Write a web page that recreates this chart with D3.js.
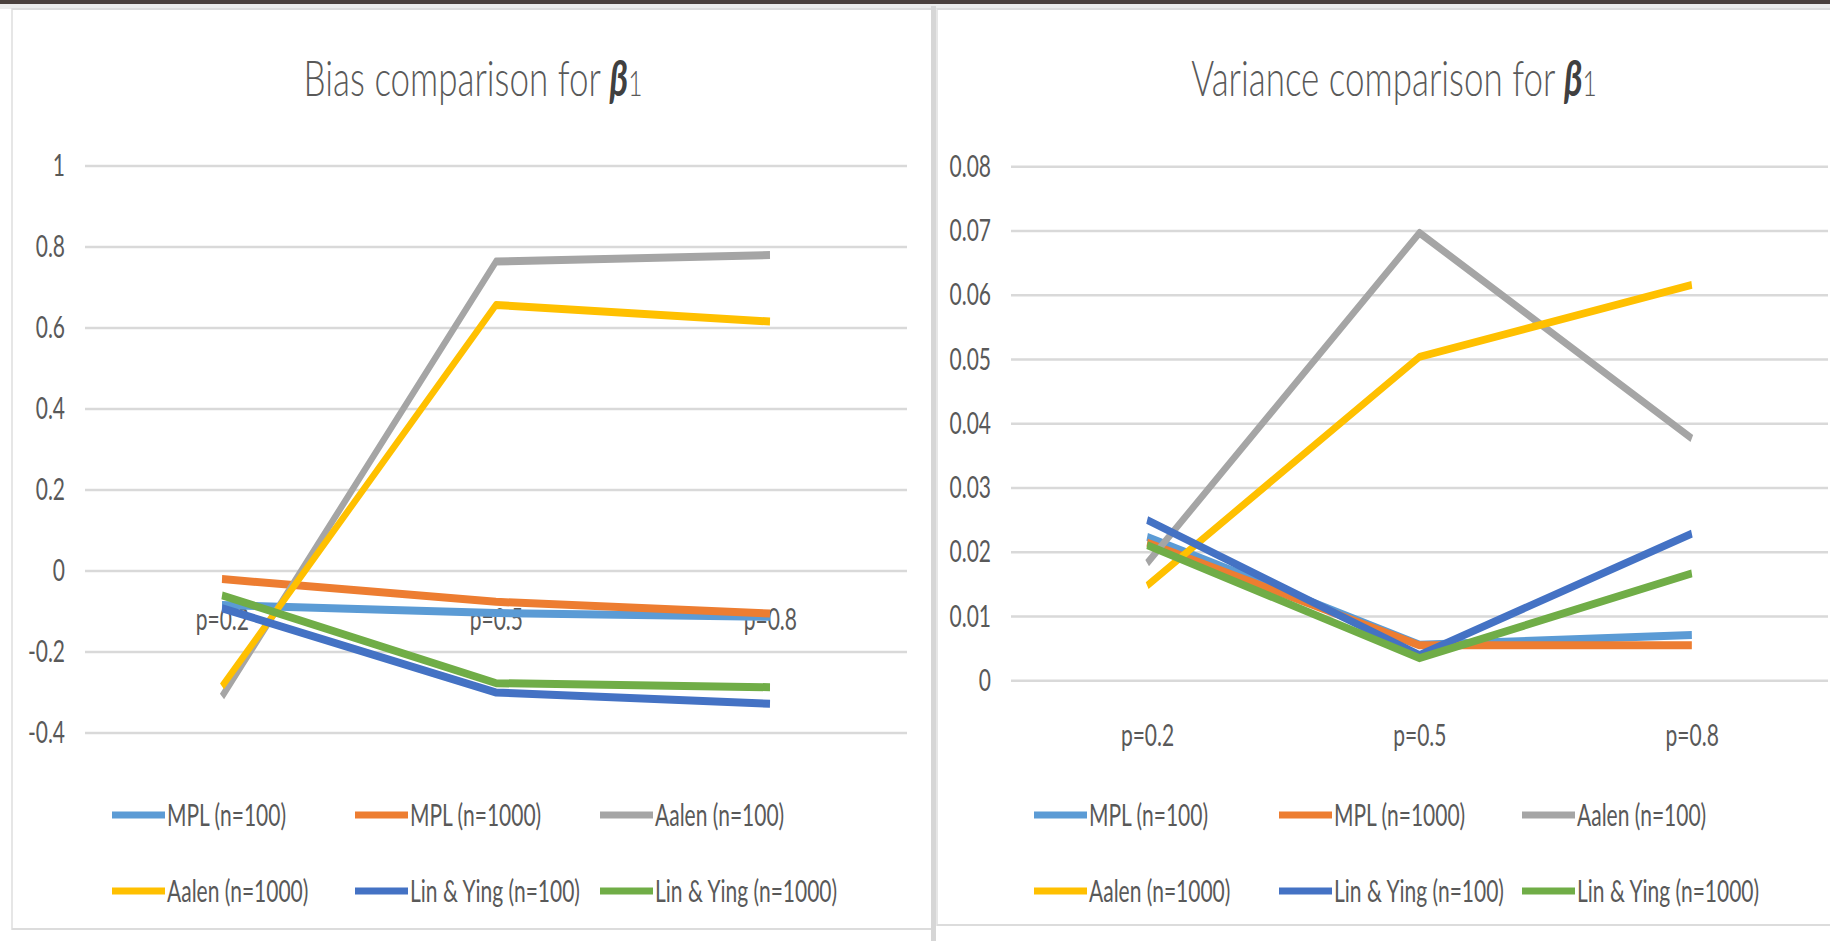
<!DOCTYPE html>
<html>
<head>
<meta charset="utf-8">
<script src="https://cdn.jsdelivr.net/npm/d3@7"></script>
<style>
  body { margin: 0; background: #fff; overflow: hidden; }
  svg { display: block; }
  text { font-family: Lato, "Open Sans", sans-serif; fill: #595959; }
</style>
</head>
<body>
<svg id="chart" width="1830" height="941"></svg>
<script>
// Categories and series
const categories = ["p=0.2", "p=0.5", "p=0.8"];
const seriesNames = ["MPL (n=100)", "MPL (n=1000)", "Aalen (n=100)",
                     "Aalen (n=1000)", "Lin & Ying (n=100)", "Lin & Ying (n=1000)"];
const seriesColors = ["#5b9bd5", "#ed7d31", "#a5a5a5", "#ffc000", "#4472c4", "#70ad47"];

// Bias of beta1 estimates
const biasMPL100    = [-0.084, -0.104, -0.113];
const biasMPL1000   = [-0.020, -0.076, -0.105];
const biasAalen100  = [-0.310,  0.764,  0.780];
const biasAalen1000 = [-0.285,  0.657,  0.616];
const biasLY100     = [-0.092, -0.300, -0.328];
const biasLY1000    = [-0.060, -0.277, -0.287];

// Variance of beta1 estimates
const varMPL100    = [0.0224, 0.0056, 0.0071];
const varMPL1000   = [0.0215, 0.0055, 0.0055];
const varAalen100  = [0.0183, 0.0697, 0.0377];
const varAalen1000 = [0.0148, 0.0504, 0.0616];
const varLY100     = [0.0250, 0.0040, 0.0229];
const varLY1000    = [0.0211, 0.0035, 0.0167];

// Axis ticks
const biasTicks = [1, 0.8, 0.6, 0.4, 0.2, 0, -0.2, -0.4];
const varTicks  = [0.08, 0.07, 0.06, 0.05, 0.04, 0.03, 0.02, 0.01, 0];

// The whole drawing is horizontally condensed
const SX = 0.7;
const V = x => x / SX;

const svg = d3.select("#chart");
const root = svg.append("g").attr("transform", `scale(${SX},1)`);

// Frame: dark top edge, panel borders and divider
root.append("rect").attr("x", 0).attr("y", 0).attr("width", V(1830)).attr("height", 4).attr("fill", "#4a403d");
root.append("rect").attr("x", 0).attr("y", 4).attr("width", V(1830)).attr("height", 5).attr("fill", "#ececec");
root.append("rect").attr("x", V(12)).attr("y", 9).attr("width", V(920)).attr("height", 920)
  .attr("fill", "none").attr("stroke", "#dcdcdc").attr("stroke-width", 2);
root.append("rect").attr("x", V(937)).attr("y", 9).attr("width", V(900)).attr("height", 916)
  .attr("fill", "none").attr("stroke", "#dcdcdc").attr("stroke-width", 2);
root.append("rect").attr("x", V(931)).attr("y", 6).attr("width", V(5)).attr("height", 935).attr("fill", "#d6d6d6");

const panels = [
  {
    title: "Bias comparison for ",
    ticks: biasTicks,
    domain: [-0.4, 1],
    values: [biasMPL100, biasMPL1000, biasAalen100, biasAalen1000, biasLY100, biasLY1000],
    xr: [85, 907], yr: [733, 166], catOffset: 38,
    titleX: 473, legendX: [112, 355, 600]
  },
  {
    title: "Variance comparison for ",
    ticks: varTicks,
    domain: [0, 0.08],
    values: [varMPL100, varMPL1000, varAalen100, varAalen1000, varLY100, varLY1000],
    xr: [1011, 1828], yr: [680.7, 166.7], catOffset: 44,
    titleX: 1394, legendX: [1034, 1279, 1522]
  }
];

panels.forEach(p => {
  const g = root.append("g");
  const x = d3.scalePoint().domain(categories).range([V(p.xr[0]), V(p.xr[1])]).padding(0.5);
  const y = d3.scaleLinear().domain(p.domain).range(p.yr);

  // Title
  const t = g.append("text").attr("x", V(p.titleX)).attr("y", 96)
    .attr("text-anchor", "middle").style("font-size", "50px").style("font-weight", 300);
  t.append("tspan").text(p.title);
  t.append("tspan").text("β").style("font-weight", 700).style("font-style", "italic").style("fill", "#404040");
  t.append("tspan").text("1").style("font-size", "35px");

  // Gridlines
  g.append("g").selectAll("line").data(p.ticks).join("line")
    .attr("x1", V(p.xr[0])).attr("x2", V(p.xr[1]))
    .attr("y1", d => y(d)).attr("y2", d => y(d))
    .attr("stroke", "#d9d9d9").attr("stroke-width", 2.4);

  // Value axis labels
  const yAxis = d3.axisLeft(y).tickValues(p.ticks).tickFormat(d => String(d)).tickSize(0).tickPadding(V(20));
  const ya = g.append("g").attr("transform", `translate(${V(p.xr[0])},0)`).call(yAxis);
  ya.select(".domain").remove();
  ya.selectAll("text").style("font-size", "30px").style("fill", "#595959").style("font-family", "Lato, sans-serif");

  // Category labels, hung below the zero line
  const xAxis = d3.axisBottom(x).tickSize(0).tickPadding(0);
  const xa = g.append("g").attr("transform", `translate(0,${y(0) + p.catOffset})`).call(xAxis);
  xa.select(".domain").remove();
  xa.selectAll("text").style("font-size", "30px").style("fill", "#595959").style("font-family", "Lato, sans-serif");

  // Series lines
  const line = d3.line().x((d, i) => x(categories[i])).y(d => y(d));
  g.append("g").selectAll("path").data(p.values).join("path")
    .attr("d", d => line(d))
    .attr("fill", "none")
    .attr("stroke", (d, i) => seriesColors[i])
    .attr("stroke-width", 8)
    .attr("stroke-linejoin", "round");

  // Legend, two rows of three
  const rows = [815, 891];
  const lg = g.append("g").selectAll("g").data(seriesNames).join("g")
    .attr("transform", (d, i) => `translate(${V(p.legendX[i % 3])},${rows[Math.floor(i / 3)]})`);
  lg.append("line").attr("x1", 0).attr("x2", V(53)).attr("y1", 0).attr("y2", 0)
    .attr("stroke", (d, i) => seriesColors[i]).attr("stroke-width", 7);
  lg.append("text").attr("x", V(55)).attr("y", 0).attr("dy", "0.35em")
    .style("font-size", "30px").text(d => d);
});
</script>
</body>
</html>
